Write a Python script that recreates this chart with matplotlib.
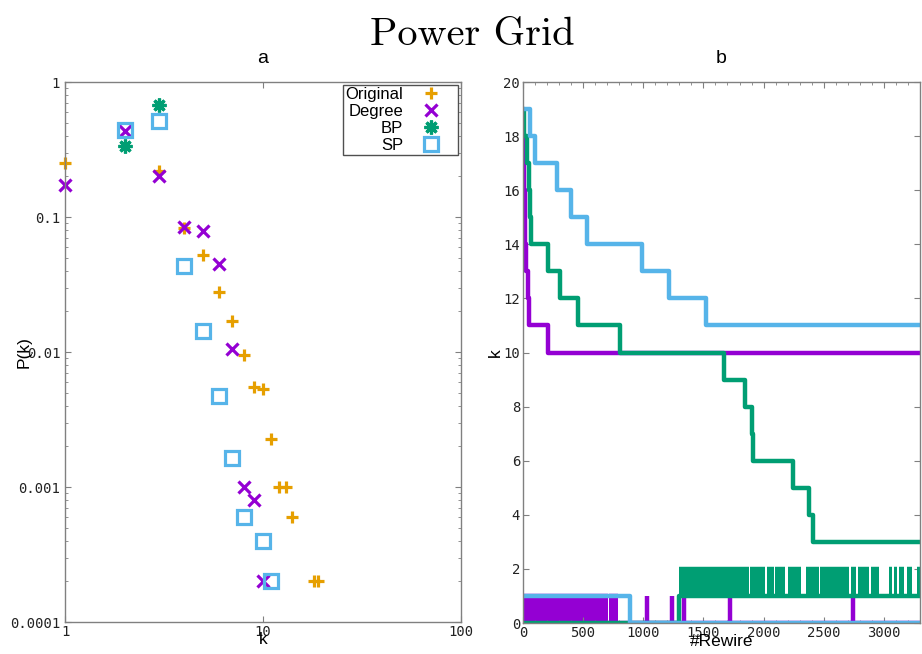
import matplotlib
matplotlib.use('Agg')
import matplotlib.pyplot as plt
from matplotlib.ticker import FixedLocator, FixedFormatter, MultipleLocator, NullFormatter, NullLocator

# panel a: degree distribution P(k)
k_orig = [1, 3, 4, 5, 6, 7, 8, 9, 10, 11, 12, 13, 14, 18, 19]
p_orig = [0.252, 0.218, 0.083, 0.052, 0.028, 0.017, 0.0095, 0.0055, 0.0053,
          0.00225, 0.001, 0.001, 0.0006, 0.0002, 0.0002]
k_deg = [1, 2, 3, 4, 5, 6, 7, 8, 9, 10]
p_deg = [0.174, 0.432, 0.203, 0.0846, 0.0785, 0.0445, 0.0106, 0.001, 0.0008, 0.0002]
k_bp = [2, 3]
p_bp = [0.335, 0.681]
k_sp = [2, 3, 4, 5, 6, 7, 8, 10, 11]
p_sp = [0.44, 0.513, 0.0432, 0.0143, 0.0047, 0.00163, 0.0006, 0.0004, 0.0002]

# panel b: max degree vs number of rewires (step changes)
deg_x = [0, 5, 10, 14, 18, 22, 39, 50, 210, 3300]
deg_y = [18, 17, 16, 15, 14, 13, 12, 11, 10, 10]
bp_x = [0, 11, 30, 50, 58, 66, 210, 308, 455, 807, 1675, 1847, 1902, 1910, 2241, 2374, 2415, 3300]
bp_y = [19, 18, 17, 16, 15, 14, 13, 12, 11, 10, 9, 8, 7, 6, 5, 4, 3, 3]
sp_x = [0, 58, 100, 285, 397, 530, 993, 1215, 1520, 3300]
sp_y = [19, 18, 17, 16, 15, 14, 13, 12, 11, 11]

# panel b: lower curves
deg_block_start = [0, 712]          # dense 0/1 switching
deg_block_end = [705, 793]
deg_spikes = [1032, 1237, 1337, 1725, 2743]
deg_low_x = [0, 3300]
deg_low_y = [0, 0]
bp_low_x = [0, 1300, 3300]
bp_low_y = [0, 1, 1]
bp_burst_start = [1300, 1889, 2030, 2094, 2149, 2202, 2354, 2468, 2729, 2785, 2893, 3039, 3081, 3122, 3192, 3275]
bp_burst_end = [1875, 2011, 2085, 2141, 2182, 2307, 2460, 2707, 2768, 2873, 2956, 3067, 3109, 3164, 3234, 3300]
sp_low_x = [0, 890, 3300]
sp_low_y = [1, 0, 0]

c_orig = '#E69F00'
c_deg = '#9400D3'
c_bp = '#009E73'
c_sp = '#56B4E9'
gray = '#808080'
lw = 3.2

plt.rcParams['font.family'] = ['Liberation Sans', 'DejaVu Sans']

fig = plt.figure(figsize=(9.22, 6.54), dpi=100)
ax1 = fig.add_axes([0.0705, 0.0489, 0.4295, 0.8257])
ax2 = fig.add_axes([0.5672, 0.0474, 0.4306, 0.8272])

fig.text(0.512, 0.931, 'Power Grid', family='cmr10', fontsize=29, ha='center', va='baseline')

# ---- panel a
ax1.set_xscale('log')
ax1.set_yscale('log')
ax1.plot(k_orig, p_orig, ls='none', marker='+', ms=9, mew=2.3, color=c_orig, label='Original', clip_on=False)
ax1.plot(k_deg, p_deg, ls='none', marker='x', ms=9, mew=2.3, color=c_deg, label='Degree', clip_on=False)
ax1.plot(k_bp, p_bp, ls='none', marker=(8, 2, 0), ms=10, mew=2.3, color=c_bp, label='BP', clip_on=False)
ax1.plot(k_sp, p_sp, ls='none', marker='s', ms=9.5, mew=2.3, mfc='none', color=c_sp, label='SP', clip_on=False)
ax1.set_xlim(1, 100)
ax1.set_ylim(0.0001, 1)
ax1.xaxis.set_major_locator(FixedLocator([1, 10, 100]))
ax1.xaxis.set_major_formatter(FixedFormatter(['1', '10', '100']))
ax1.xaxis.set_minor_locator(NullLocator())
ax1.yaxis.set_major_locator(FixedLocator([0.0001, 0.001, 0.01, 0.1, 1]))
ax1.yaxis.set_major_formatter(FixedFormatter(['0.0001', '0.001', '0.01', '0.1', '1']))
ax1.yaxis.set_minor_formatter(NullFormatter())
ax1.set_title('a', fontsize=14, pad=14)
ax1.set_xlabel('k', fontsize=12.5)
ax1.set_ylabel('P(k)', fontsize=12.5)
ax1.xaxis.set_label_coords(0.5, -0.018)
ax1.yaxis.set_label_coords(-0.085, 0.5)

leg = ax1.legend(loc='upper right', markerfirst=False, fontsize=12, fancybox=False,
                 edgecolor='#505050', framealpha=1, borderaxespad=0.18, borderpad=0.12,
                 labelspacing=0.12, handlelength=3.0, handletextpad=0.18)
leg.get_frame().set_linewidth(1.0)

# ---- panel b
ax2.step(deg_x, deg_y, where='post', color=c_deg, lw=lw)
ax2.step(deg_low_x, deg_low_y, where='post', color=c_deg, lw=lw)
for a, b in zip(deg_block_start, deg_block_end):
    ax2.fill_between([a, b], 0, 1, color=c_deg, lw=0)
ax2.hlines([1] * len(deg_block_start), deg_block_start, deg_block_end, color=c_deg, lw=lw, capstyle='butt')
ax2.vlines(deg_spikes, 0, 1, color=c_deg, lw=lw)

ax2.step(bp_x, bp_y, where='post', color=c_bp, lw=lw)
ax2.step(bp_low_x, bp_low_y, where='post', color=c_bp, lw=lw)
for a, b in zip(bp_burst_start, bp_burst_end):
    ax2.fill_between([a, b], 1, 2, color=c_bp, lw=0)
ax2.hlines([2] * len(bp_burst_start), bp_burst_start, bp_burst_end, color=c_bp, lw=lw, capstyle='butt')

ax2.step(sp_x, sp_y, where='post', color=c_sp, lw=lw)
ax2.step(sp_low_x, sp_low_y, where='post', color=c_sp, lw=lw)

ax2.set_xlim(0, 3300)
ax2.set_ylim(0, 20)
ax2.xaxis.set_major_locator(MultipleLocator(500))
ax2.xaxis.set_minor_locator(MultipleLocator(100))
ax2.yaxis.set_major_locator(MultipleLocator(2))
ax2.set_title('b', fontsize=14, pad=14)
ax2.set_xlabel('#Rewire', fontsize=12.5)
ax2.set_ylabel('k', fontsize=12.5)
ax2.xaxis.set_label_coords(0.5, -0.02)
ax2.yaxis.set_label_coords(-0.05, 0.5)

for ax in (ax1, ax2):
    for s in ax.spines.values():
        s.set_color(gray)
        s.set_linewidth(1.0)
    ax.tick_params(which='both', direction='in', top=True, right=True, color=gray,
                   labelsize=10, labelcolor='#222222', labelfontfamily='DejaVu Sans Mono')
    ax.tick_params(which='major', length=4)
    ax.tick_params(which='minor', length=2.2)
    ax.tick_params(axis='x', pad=2)
ax1.tick_params(axis='y', pad=3.5)
ax2.tick_params(axis='y', pad=2)

fig.savefig('out.png', dpi=100)
